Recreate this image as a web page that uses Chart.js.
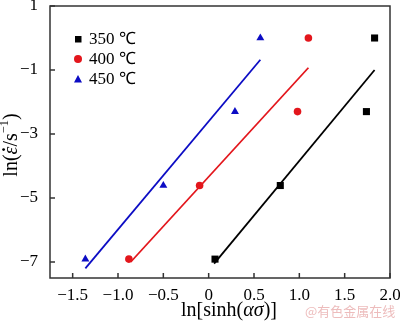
<!DOCTYPE html>
<html>
<head>
<meta charset="utf-8">
<script src="https://cdn.jsdelivr.net/npm/chart.js@4.4.1/dist/chart.umd.min.js"></script>
<style>
  html, body { margin: 0; padding: 0; background: #fff; }
  #wrap { width: 400px; height: 326px; }
</style>
</head>
<body>
<div id="wrap"><canvas id="myChart"></canvas></div>
<script>
// ln(strain rate) for 0.001, 0.01, 0.1, 1 s^-1
const lnRate = [-6.91, -4.61, -2.30, 0];

// ln[sinh(alpha*sigma)] at each temperature
const x350 = [0.07, 0.79, 1.74, 1.83];
const x400 = [-0.88, -0.10, 0.98, 1.10];
const x450 = [-1.36, -0.50, 0.29, 0.57];

// fitted lines (end points)
const fit350X = [0.06, 1.83];
const fit350Y = [-7.05, -1.0];
const fit400X = [-0.86, 1.10];
const fit400Y = [-7.0, -0.93];
const fit450X = [-1.36, 0.57];
const fit450Y = [-7.2, -0.68];

const xTicks = [-1.5, -1.0, -0.5, 0, 0.5, 1.0, 1.5, 2.0];
const yTicks = [1, -1, -3, -5, -7];
const seriesLabels = ["350 \u2103", "400 \u2103", "450 \u2103"];

const SERIF = '"Liberation Serif", "Times New Roman", serif';
const BLACK = "#000000";
const RED = "#e3161c";
const BLUE = "#0c0cc4";

const pts = (xs, ys) => xs.map((x, i) => ({ x: x, y: ys[i] }));
const fmt = (v) => (v === 0 ? "0" : String(v).replace("-", "\u2212"));

function scatterSet(label, xs, color, style, r) {
  return {
    label: label,
    data: pts(xs, lnRate),
    showLine: false,
    pointStyle: style,
    pointRadius: r,
    pointBackgroundColor: color,
    pointBorderColor: color,
    pointBorderWidth: 0,
  };
}

function fitSet(xs, ys, color) {
  return {
    label: "",
    data: pts(xs, ys),
    showLine: true,
    borderColor: color,
    borderWidth: 1.8,
    pointRadius: 0,
    fill: false,
  };
}

// draw a run of styled pieces starting at x
function drawRuns(ctx, runs, size, x, y) {
  let cx = x;
  runs.forEach((r) => {
    const s = r.sup ? size * 0.62 : size;
    ctx.font = (r.italic ? "italic " : "") + s + "px " + SERIF;
    const w = ctx.measureText(r.t).width;
    ctx.fillText(r.t, cx, r.sup ? y - size * 0.36 : y);
    if (r.dot) {
      // dot accent above the glyph
      ctx.beginPath();
      ctx.arc(cx + w * 0.62, y - size * 0.42, size * 0.07, 0, Math.PI * 2);
      ctx.fill();
    }
    cx += w;
  });
  return cx - x;
}
function runsWidth(ctx, runs, size) {
  let w = 0;
  runs.forEach((r) => {
    const s = r.sup ? size * 0.62 : size;
    ctx.font = (r.italic ? "italic " : "") + s + "px " + SERIF;
    w += ctx.measureText(r.t).width;
  });
  return w;
}

const framePlugin = {
  id: "frame",
  afterDraw(chart) {
    const { ctx, chartArea: a, scales } = chart;
    ctx.save();
    ctx.strokeStyle = "#333";
    ctx.lineWidth = 1.5;
    ctx.strokeRect(a.left, a.top, a.right - a.left, a.bottom - a.top);

    // inward tick marks
    ctx.beginPath();
    xTicks.forEach((v) => {
      const px = scales.x.getPixelForValue(v);
      ctx.moveTo(px, a.bottom);
      ctx.lineTo(px, a.bottom - 5);
    });
    yTicks.forEach((v) => {
      const py = scales.y.getPixelForValue(v);
      ctx.moveTo(a.left, py);
      ctx.lineTo(a.left + 5, py);
    });
    ctx.stroke();

    ctx.fillStyle = "#000";
    ctx.textBaseline = "middle";
    ctx.textAlign = "left";

    // x title
    const xt = [{ t: "ln[sinh(" }, { t: "\u03b1\u03c3", italic: true }, { t: ")]" }];
    const xw = runsWidth(ctx, xt, 20);
    drawRuns(ctx, xt, 20, 229 - xw / 2, 311);

    // y title, rotated
    const yt = [
      { t: "ln(" },
      { t: "\u03b5", italic: true, dot: true },
      { t: "/s" },
      { t: "\u22121", sup: true },
      { t: ")" },
    ];
    const yw = runsWidth(ctx, yt, 20);
    ctx.save();
    ctx.translate(12, 145);
    ctx.rotate(-Math.PI / 2);
    drawRuns(ctx, yt, 20, -yw / 2, 0);
    ctx.restore();

    // legend
    const markers = [
      { c: BLACK, s: "rect" },
      { c: RED, s: "circle" },
      { c: BLUE, s: "triangle" },
    ];
    markers.forEach((m, i) => {
      const y = 39 + i * 20;
      ctx.fillStyle = m.c;
      ctx.beginPath();
      if (m.s === "rect") ctx.rect(75, y - 3, 6.5, 6.5);
      else if (m.s === "circle") ctx.arc(78, y, 4, 0, Math.PI * 2);
      else {
        ctx.moveTo(78, y - 4);
        ctx.lineTo(82, y + 3.5);
        ctx.lineTo(74, y + 3.5);
        ctx.closePath();
      }
      ctx.fill();
      ctx.fillStyle = "#000";
      ctx.font = "17px " + SERIF;
      ctx.fillText(seriesLabels[i], 89, y + 1);
    });

    // watermark
    ctx.fillStyle = "rgba(230,160,160,0.7)";
    ctx.font = '13px "Noto Sans CJK SC", sans-serif';
    ctx.fillText("@\u6709\u8272\u91d1\u5c5e\u5728\u7ebf", 305, 311);
    ctx.restore();
  },
};

const ctx = document.getElementById("myChart").getContext("2d");
new Chart(ctx, {
  type: "scatter",
  data: {
    datasets: [
      fitSet(fit350X, fit350Y, BLACK),
      fitSet(fit400X, fit400Y, RED),
      fitSet(fit450X, fit450Y, BLUE),
      scatterSet(seriesLabels[0], x350, BLACK, "rect", 5),
      scatterSet(seriesLabels[1], x400, RED, "circle", 3.8),
      scatterSet(seriesLabels[2], x450, BLUE, "triangle", 4.6),
    ],
  },
  options: {
    responsive: true,
    maintainAspectRatio: false,
    animation: false,
    layout: { padding: { top: 6, right: 10, left: 0, bottom: 0 } },
    plugins: {
      legend: { display: false },
      tooltip: { enabled: false },
    },
    scales: {
      x: {
        type: "linear",
        min: -1.75,
        max: 2.0,
        grid: { display: false, drawTicks: false },
        border: { display: false },
        afterBuildTicks: (s) => { s.ticks = xTicks.map((v) => ({ value: v })); },
        afterFit: (s) => {
          s.height = 48;
          s.paddingLeft = 0;
          s.paddingRight = 0;
        },
        ticks: {
          padding: 7,
          color: "#000",
          font: { family: SERIF, size: 17 },
          maxRotation: 0,
          autoSkip: false,
          callback: (v) => (v === 0 ? "0" : fmt(v.toFixed(1))),
        },
      },
      y: {
        type: "linear",
        min: -7.5,
        max: 1,
        grid: { display: false, drawTicks: false },
        border: { display: false },
        afterBuildTicks: (s) => { s.ticks = yTicks.map((v) => ({ value: v })); },
        afterFit: (s) => {
          s.width = 50;
          s.paddingTop = 0;
          s.paddingBottom = 0;
        },
        ticks: {
          padding: 12,
          color: "#000",
          font: { family: SERIF, size: 17 },
          autoSkip: false,
          callback: (v) => fmt(v),
        },
      },
    },
  },
  plugins: [framePlugin],
});
</script>
</body>
</html>
